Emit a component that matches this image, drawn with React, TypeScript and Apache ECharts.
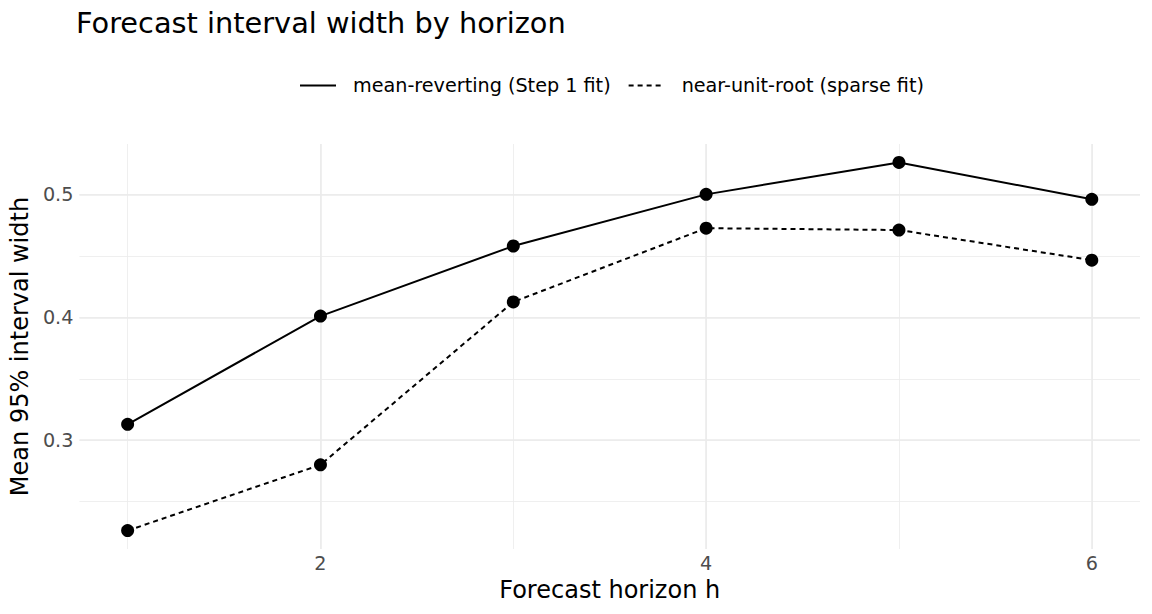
import React, { useEffect, useRef } from "react";
import * as echarts from "echarts";

const horizons = [1, 2, 3, 4, 5, 6];
const meanReverting = [0.313, 0.401, 0.458, 0.5, 0.526, 0.496];
const nearUnitRoot = [0.2265, 0.28, 0.4125, 0.4725, 0.471, 0.4465];
const seriesNames = ["mean-reverting (Step 1 fit)", "near-unit-root (sparse fit)"];
const xMajorStep = 2;
const xMinorStep = 1;
const yMajorStep = 0.1;
const yMinorStep = 0.05;

const FONT = "DejaVu Sans";

function expand(vals: number[], mult: number): [number, number] {
  const lo = Math.min(...vals);
  const hi = Math.max(...vals);
  const pad = (hi - lo) * mult;
  return [lo - pad, hi + pad];
}

export default function App() {
  const ref = useRef<HTMLDivElement>(null);

  useEffect(() => {
    document.body.style.margin = "0";
    if (!ref.current) return;
    const chart = echarts.init(ref.current, undefined, { renderer: "svg" });
    const [xMin, xMax] = expand(horizons, 0.05);
    const [yMin, yMax] = expand([...meanReverting, ...nearUnitRoot], 0.05);
    const grid = { left: 76, right: 12, top: 144, bottom: 65 };

    const baseAxis = {
      type: "value" as const,
      axisLine: { show: false },
      axisTick: { show: false },
    };

    const option: any = {
      animation: false,
      backgroundColor: "#ffffff",
      textStyle: { fontFamily: FONT },
      title: {
        text: "Forecast interval width by horizon",
        left: 76,
        top: 8,
        padding: 0,
        textStyle: { fontFamily: FONT, fontSize: 28.8, fontWeight: "normal", color: "#000000" },
      },
      legend: {
        top: 76,
        left: 299,
        padding: 0,
        itemWidth: 36,
        itemHeight: 14,
        itemGap: 17,
        itemStyle: { opacity: 0 },
        textStyle: { fontFamily: FONT, fontSize: 19.2, color: "#000000", padding: [0, 0, 0, 12] },
        data: seriesNames,
      },
      grid,
      xAxis: [
        {
          ...baseAxis,
          min: xMin,
          max: xMax,
          minInterval: xMajorStep,
          maxInterval: xMajorStep,
          name: "Forecast horizon h",
          nameLocation: "middle",
          nameGap: 28,
          nameTextStyle: { fontFamily: FONT, fontSize: 24, color: "#000000", verticalAlign: "top" },
          axisLabel: {
            showMinLabel: false,
            showMaxLabel: false,
            margin: 5,
            color: "#4D4D4D",
            fontFamily: FONT,
            fontSize: 19.2,
            formatter: (v: number) => (Math.abs(v - Math.round(v)) < 1e-9 ? String(Math.round(v)) : ""),
          },
          splitLine: {
            show: true,
            showMinLine: false,
            showMaxLine: false,
            lineStyle: { color: "#EBEBEB", width: 1.6 },
          },
          z: 1,
        },
        {
          ...baseAxis,
          min: xMin,
          max: xMax,
          minInterval: xMinorStep,
          maxInterval: xMinorStep,
          axisLabel: { show: false },
          splitLine: {
            show: true,
            showMinLine: false,
            showMaxLine: false,
            lineStyle: { color: "#EBEBEB", width: 0.8 },
          },
          z: 0,
        },
      ],
      yAxis: [
        {
          ...baseAxis,
          min: yMin,
          max: yMax,
          minInterval: yMajorStep,
          maxInterval: yMajorStep,
          name: "Mean 95% interval width",
          nameLocation: "middle",
          nameGap: 43,
          nameRotate: 90,
          nameTextStyle: { fontFamily: FONT, fontSize: 24, color: "#000000" },
          axisLabel: {
            showMinLabel: false,
            showMaxLabel: false,
            margin: 6,
            color: "#4D4D4D",
            fontFamily: FONT,
            fontSize: 19.2,
            formatter: (v: number) => {
              const r = Math.round(v * 10) / 10;
              return Math.abs(v - r) < 1e-9 ? r.toFixed(1) : "";
            },
          },
          splitLine: {
            show: true,
            showMinLine: false,
            showMaxLine: false,
            lineStyle: { color: "#EBEBEB", width: 1.6 },
          },
          z: 1,
        },
        {
          ...baseAxis,
          min: yMin,
          max: yMax,
          minInterval: yMinorStep,
          maxInterval: yMinorStep,
          axisLabel: { show: false },
          splitLine: {
            show: true,
            showMinLine: false,
            showMaxLine: false,
            lineStyle: { color: "#EBEBEB", width: 0.8 },
          },
          z: 0,
        },
      ],
      series: [
        {
          name: seriesNames[0],
          type: "line",
          xAxisIndex: 0,
          yAxisIndex: 0,
          data: horizons.map((h, i) => [h, meanReverting[i]]),
          symbol: "circle",
          symbolSize: 13,
          itemStyle: { color: "#000000" },
          lineStyle: { color: "#000000", width: 2 },
          z: 5,
        },
        {
          name: seriesNames[1],
          type: "line",
          xAxisIndex: 0,
          yAxisIndex: 0,
          data: horizons.map((h, i) => [h, nearUnitRoot[i]]),
          symbol: "circle",
          symbolSize: 13,
          itemStyle: { color: "#000000" },
          lineStyle: { color: "#000000", width: 2, type: [5, 4] },
          z: 5,
        },
      ],
    };

    chart.setOption(option);
    return () => chart.dispose();
  }, []);

  return <div ref={ref} style={{ width: 1152, height: 614 }} />;
}
